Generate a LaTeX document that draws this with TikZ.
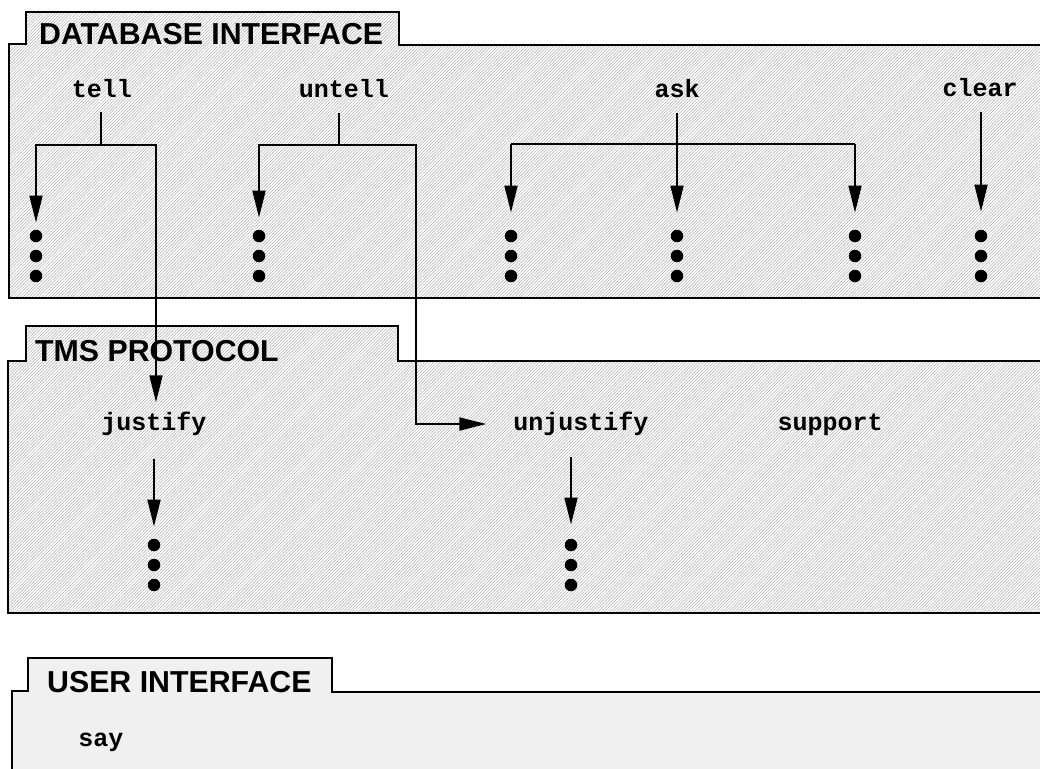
\documentclass[tikz,border=0pt]{standalone}
\usepackage{fontspec}
\setmainfont{Liberation Sans}
\newfontfamily\cmdfont{Liberation Mono}
\usetikzlibrary{arrows.meta,patterns.meta}
\newcommand\dotstack[3]{%
  \node[dotn] (#1a) at (#2,#3) {};
  \node[dotn] (#1b) at (#2,#3+20) {};
  \node[dotn] (#1c) at (#2,#3+40) {};}
\begin{document}
\begin{tikzpicture}[x=1pt,y=-1pt,
  boxline/.style={line width=2pt, line join=miter},
  hatchbox/.style={boxline, pattern={Lines[angle=45,distance=2.2pt,line width=0.5pt]}, pattern color=gray!65},
  plainbox/.style={boxline, fill=gray!12},
  title/.style={anchor=base west, inner sep=0pt, font=\fontsize{30.3}{35}\selectfont\bfseries},
  cmd/.style={anchor=base, inner sep=0pt, font=\fontsize{25}{30}\selectfont\cmdfont\bfseries},
  dotn/.style={circle, fill=black, inner sep=0pt, minimum size=12.5pt},
  ln/.style={line width=1.8pt},
  arr/.style={ln, -{Triangle[length=27pt,width=13pt]}},
]
\useasboundingbox (0,0) rectangle (1040,768);
% boxes
\draw[hatchbox] (9,298) -- (9,44) -- (26,44) -- (26,12) -- (399,12) -- (399,45) -- (1050,45) -- (1050,298) -- cycle;
\draw[hatchbox] (8,613) -- (8,361) -- (26,361) -- (26,326) -- (398,326) -- (398,361) -- (1050,361) -- (1050,613) -- cycle;
\draw[plainbox] (12,780) -- (12,691) -- (28,691) -- (28,658) -- (332,658) -- (332,692) -- (1050,692) -- (1050,780) -- cycle;
% titles
\node[title] (dbt) at (39,45) {DATABASE INTERFACE};
\node[title] (tmst) at (35,361) {TMS PROTOCOL};
\node[title] (uit) at (47,692) {USER INTERFACE};
% commands
\node[cmd] (tell) at (102,97) {tell};
\node[cmd] (untell) at (344,97) {untell};
\node[cmd] (ask) at (677,97) {ask};
\node[cmd] (clear) at (980,96) {clear};
\node[cmd] (justify) at (154,430) {justify};
\node[cmd] (unjustify) at (581,430) {unjustify};
\node[cmd] (support) at (830,430) {support};
\node[cmd] (say) at (101,746) {say};
% dots
\dotstack{d1}{36}{236}
\dotstack{d2}{259}{236}
\dotstack{d3}{511}{236}
\dotstack{d4}{677}{236}
\dotstack{d5}{855}{236}
\dotstack{d6}{981}{236}
\dotstack{d7}{154}{545}
\dotstack{d8}{571}{545}
% tell
\coordinate (tellj) at (101,145);
\coordinate (tellr) at (156,145);
\draw[ln, shorten <=15pt] (tell.south -| tellj) -- (tellj);
\draw[arr, shorten >=7pt] (tellj) -| (d1a.north);
\draw[arr, shorten >=9pt] (tellj) -- (tellr) -- (tellr |- justify.north);
% untell
\coordinate (untj) at (339,145);
\coordinate (untr) at (416,145);
\coordinate (untc) at (416,424);
\draw[ln, shorten <=16pt] (untell.south -| untj) -- (untj);
\draw[arr, shorten >=12pt] (untj) -| (d2a.north);
\draw[arr, shorten >=27pt] (untj) -- (untr) -- (untc) -- (untc -| unjustify.west);
% ask
\coordinate (askl) at (511,144);
\coordinate (askr) at (855,144);
\draw[ln] (askl) -- (askr);
\draw[arr, shorten <=16pt, shorten >=17pt] (ask.south -| d4a) -- (d4a.north);
\draw[arr, shorten >=17pt] (askl) -- (d3a.north);
\draw[arr, shorten >=17pt] (askr) -- (d5a.north);
% clear
\draw[arr, shorten <=16pt, shorten >=18pt] (clear.south -| d6a) -- (d6a.north);
% TMS arrows
\draw[arr, shorten <=24pt, shorten >=12pt] (justify.south -| d7a) -- (d7a.north);
\draw[arr, shorten <=22pt, shorten >=14pt] (unjustify.south -| d8a) -- (d8a.north);
\end{tikzpicture}
\end{document}
